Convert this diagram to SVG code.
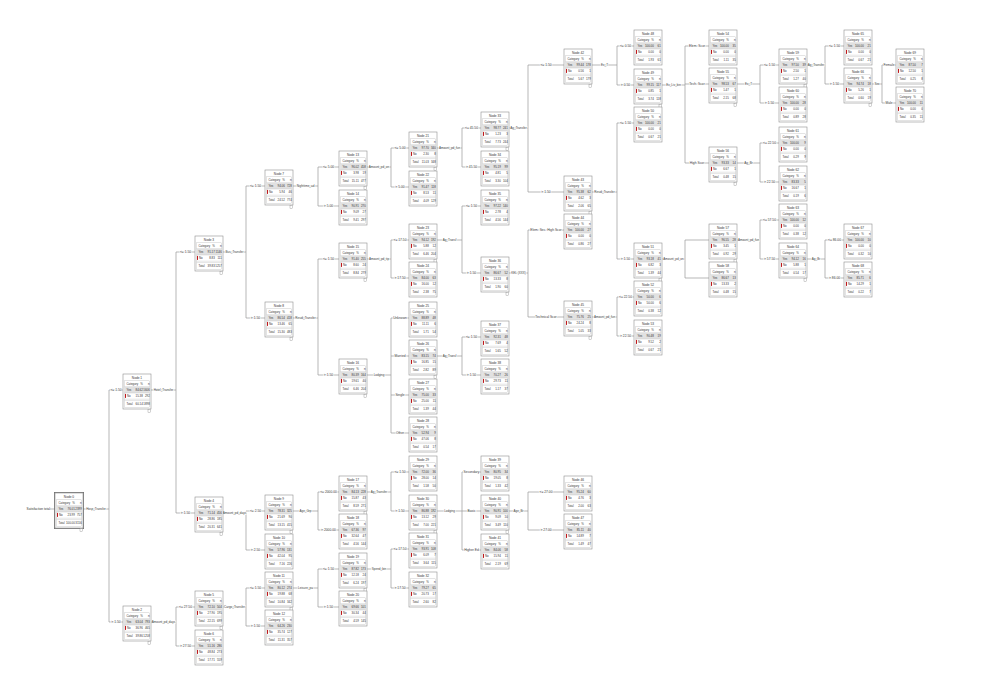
<svg xmlns="http://www.w3.org/2000/svg" xmlns:xlink="http://www.w3.org/1999/xlink" width="1004" height="685" viewBox="0 0 1004 685">
<style>
text{font-family:'Liberation Sans',Arial,sans-serif;fill:#333}
.ln{fill:none;stroke:#9a9a9a;stroke-width:.7}
.ti{font-size:3.2px;text-anchor:middle}
.h{font-size:2.9px}
.v{font-size:2.9px;text-anchor:end}
.bl,.sl{text-anchor:middle;fill:#3a3a3a;stroke:#fff;stroke-width:1.4px;paint-order:stroke;stroke-linejoin:round}
.bl{font-size:3.3px}
.sl{font-size:3px}
.rl{font-size:3.2px;text-anchor:end}
</style>
<defs>
<g id="box">
<rect width="28" height="35" fill="#fff" stroke="#8f8f8f" stroke-width=".6"/>
<rect x="1.5" y="6.8" width="25" height="26.7" fill="none" stroke="#bdbdbd" stroke-width=".4"/>
<rect x="1.7" y="13" width="24.6" height="6" fill="#e1e1e1"/>
<path d="M1.5 12.6H26.5M1.5 19H26.5M1.5 25.2H26.5M1.5 26.6H26.5" stroke="#bdbdbd" stroke-width=".4" fill="none"/>
<rect x="2" y="19.9" width="1" height="4" fill="#c0171d"/>
<text class="h" x="3.5" y="10.9">Category</text>
<text class="h" x="19.8" y="10.9" text-anchor="end">%</text>
<text class="h" x="26.6" y="10.9" text-anchor="end">n</text>
<text class="h" x="3.5" y="17.1">Yes</text>
<text class="h" x="4" y="23.2">No</text>
<text class="h" x="3.5" y="31.1">Total</text>
</g>
<rect id="tick" x="25" y="35.6" width="2.6" height="2.6" fill="#fff" stroke="#8c8c8c" stroke-width=".4"/>
</defs>
<rect width="1004" height="685" fill="#fff"/>

<g id="connectors">
<path class="ln" d="M50 509H55"/>
<path class="ln" d="M83 509H109M109 390V622M109 390H123M109 622H123"/>
<path class="ln" d="M151 390H176M176 252V513M176 252H195M176 513H195"/>
<path class="ln" d="M151 622H176M176 607V646M176 607H195M176 646H195"/>
<path class="ln" d="M223 252H246M246 186V318M246 186H265M246 318H265"/>
<path class="ln" d="M223 513H246M246 511V550M246 511H265M246 550H265"/>
<path class="ln" d="M223 607H246M246 588V626M246 588H265M246 626H265"/>
<path class="ln" d="M293 186H318M318 167V206M318 167H339M318 206H339"/>
<path class="ln" d="M293 318H318M318 259V375M318 259H339M318 375H339"/>
<path class="ln" d="M293 511H318M318 492V530M318 492H339M318 530H339"/>
<path class="ln" d="M293 588H318M318 569V607M318 569H339M318 607H339"/>
<path class="ln" d="M367 167H391M391 148V187M391 148H409M391 187H409"/>
<path class="ln" d="M367 259H391M391 240V278M391 240H409M391 278H409"/>
<path class="ln" d="M367 375H391M391 318V433M391 318H409M391 356H409M391 395H409M391 433H409"/>
<path class="ln" d="M367 492H391M391 472V511M391 472H409M391 511H409"/>
<path class="ln" d="M367 569H391M391 549V588M391 549H409M391 588H409"/>
<path class="ln" d="M437 148H462M462 128V167M462 128H481M462 167H481"/>
<path class="ln" d="M437 240H462M462 206V273M462 206H481M462 273H481"/>
<path class="ln" d="M437 356H462M462 337V375M462 337H481M462 375H481"/>
<path class="ln" d="M437 511H462M462 472V550M462 472H481M462 511H481M462 550H481"/>
<path class="ln" d="M509 128H528M528 65V192M528 65H564M528 192H564"/>
<path class="ln" d="M509 273H528M528 230V317M528 230H564M528 317H564"/>
<path class="ln" d="M509 511H528M528 492V530M528 492H564M528 530H564"/>
<path class="ln" d="M592 65H617M617 46V85M617 46H634M617 85H634"/>
<path class="ln" d="M592 192H617M617 123V259M617 123H634M617 259H634"/>
<path class="ln" d="M592 317H617M617 297V336M617 297H634M617 336H634"/>
<path class="ln" d="M662 85H685M685 46V163M685 46H709M685 84H709M685 163H709"/>
<path class="ln" d="M662 259H685M685 240V278M685 240H709M685 278H709"/>
<path class="ln" d="M737 84H760M760 65V103M760 65H779M760 103H779"/>
<path class="ln" d="M737 163H760M760 143V182M760 143H779M760 182H779"/>
<path class="ln" d="M737 240H760M760 220V259M760 220H779M760 259H779"/>
<path class="ln" d="M807 65H825M825 46V84M825 46H844M825 84H844"/>
<path class="ln" d="M807 259H825M825 240V278M825 240H844M825 278H844"/>
<path class="ln" d="M872 84H882M882 65V103M882 65H896M882 103H896"/>

<text class="rl" x="50" y="510.2">Satisfaction total</text>
<text class="sl" x="96" y="510.2">Hosp_Transfer</text>
<text class="sl" x="163.5" y="391.2">Hotel_Transfer</text>
<text class="sl" x="163.5" y="623.2">Amount_pd_days</text>
<text class="sl" x="234.5" y="253.2">Bus_Transfer</text>
<text class="sl" x="234.5" y="514.2">Amount_pd_days</text>
<text class="sl" x="234.5" y="608.2">Cargo_Transfer</text>
<text class="sl" x="305.5" y="187.2">Nighttime_ad</text>
<text class="sl" x="305.5" y="319.2">Resid_Transfer</text>
<text class="sl" x="305.5" y="512.2">Age_Grp</text>
<text class="sl" x="305.5" y="589.2">Leisure_pa</text>
<text class="sl" x="379" y="168.2">Amount_pd_on</text>
<text class="sl" x="379" y="260.2">Amount_pd_tip</text>
<text class="sl" x="379" y="376.2">Lodging</text>
<text class="sl" x="379" y="493.2">Ag_Transfer</text>
<text class="sl" x="379" y="570.2">Spend_bin</text>
<text class="sl" x="449.5" y="149.2">Amount_pd_fun</text>
<text class="sl" x="449.5" y="241.2">Ag_Transf</text>
<text class="sl" x="449.5" y="357.2">Ag_Transf</text>
<text class="sl" x="449.5" y="512.2">Lodging</text>
<text class="sl" x="518.5" y="129.2">Ag_Transfer</text>
<text class="sl" x="518.5" y="274.2">KEL (XXX)</text>
<text class="sl" x="518.5" y="512.2">Age_Br</text>
<text class="sl" x="604.5" y="66.2">Ex_T</text>
<text class="sl" x="604.5" y="193.2">Resid_Transfer</text>
<text class="sl" x="604.5" y="318.2">Amount_pd_fun</text>
<text class="sl" x="673.5" y="86.2">Ex_Liv_bin</text>
<text class="sl" x="673.5" y="260.2">Amount_pd_on</text>
<text class="sl" x="748.5" y="85.2">Ex_T</text>
<text class="sl" x="748.5" y="164.2">Ag_Br</text>
<text class="sl" x="748.5" y="241.2">Amount_pd_fun</text>
<text class="sl" x="816" y="66.2">Ag_Transfer</text>
<text class="sl" x="816" y="260.2">Ag_Br</text>
<text class="sl" x="877" y="85.2">Sex</text>

<text class="bl" x="116" y="391.2">&lt;= 1.50</text>
<text class="bl" x="116" y="623.2">&gt; 1.50</text>
<text class="bl" x="185.5" y="253.2">&lt;= 1.50</text>
<text class="bl" x="185.5" y="514.2">&gt; 1.50</text>
<text class="bl" x="185.5" y="608.2">&lt;= 27.50</text>
<text class="bl" x="185.5" y="647.2">&gt; 27.50</text>
<text class="bl" x="255.5" y="187.2">&lt;= 1.50</text>
<text class="bl" x="255.5" y="319.2">&gt; 1.50</text>
<text class="bl" x="255.5" y="512.2">&lt;= 2.50</text>
<text class="bl" x="255.5" y="551.2">&gt; 2.50</text>
<text class="bl" x="255.5" y="589.2">&lt;= 1.50</text>
<text class="bl" x="255.5" y="627.2">&gt; 1.50</text>
<text class="bl" x="328.5" y="168.2">&lt;= 5.00</text>
<text class="bl" x="328.5" y="207.2">&gt; 5.00</text>
<text class="bl" x="328.5" y="260.2">&lt;= 1.50</text>
<text class="bl" x="328.5" y="376.2">&gt; 1.50</text>
<text class="bl" x="328.5" y="493.2">&lt;= 2000.00</text>
<text class="bl" x="328.5" y="531.2">&gt; 2000.00</text>
<text class="bl" x="328.5" y="570.2">&lt;= 1.50</text>
<text class="bl" x="328.5" y="608.2">&gt; 1.50</text>
<text class="bl" x="400" y="149.2">&lt;= 5.00</text>
<text class="bl" x="400" y="188.2">&gt; 5.00</text>
<text class="bl" x="400" y="241.2">&lt;= 17.50</text>
<text class="bl" x="400" y="279.2">&gt; 17.50</text>
<text class="bl" x="400" y="319.2">Unknown</text>
<text class="bl" x="400" y="357.2">Married</text>
<text class="bl" x="400" y="396.2">Single</text>
<text class="bl" x="400" y="434.2">Other</text>
<text class="bl" x="400" y="473.2">&lt;= 1.50</text>
<text class="bl" x="400" y="512.2">&gt; 1.50</text>
<text class="bl" x="400" y="550.2">&lt;= 17.50</text>
<text class="bl" x="400" y="589.2">&gt; 17.50</text>
<text class="bl" x="471.5" y="129.2">&lt;= 45.50</text>
<text class="bl" x="471.5" y="168.2">&gt; 45.50</text>
<text class="bl" x="471.5" y="207.2">&lt;= 1.50</text>
<text class="bl" x="471.5" y="274.2">&gt; 1.50</text>
<text class="bl" x="471.5" y="338.2">&lt;= 1.50</text>
<text class="bl" x="471.5" y="376.2">&gt; 1.50</text>
<text class="bl" x="471.5" y="473.2">Secondary</text>
<text class="bl" x="471.5" y="512.2">Basic</text>
<text class="bl" x="471.5" y="551.2">Higher Ed</text>
<text class="bl" x="546" y="66.2">&lt;= 1.50</text>
<text class="bl" x="546" y="193.2">&gt; 1.50</text>
<text class="bl" x="546" y="231.2">Elem. Sec. High Scor</text>
<text class="bl" x="546" y="318.2">Technical Scor</text>
<text class="bl" x="546" y="493.2">&lt;= 27.00</text>
<text class="bl" x="546" y="531.2">&gt; 27.00</text>
<text class="bl" x="625.5" y="47.2">&lt;= 0.50</text>
<text class="bl" x="625.5" y="86.2">&gt; 0.50</text>
<text class="bl" x="625.5" y="124.2">&lt;= 1.50</text>
<text class="bl" x="625.5" y="260.2">&gt; 1.50</text>
<text class="bl" x="625.5" y="298.2">&lt;= 22.50</text>
<text class="bl" x="625.5" y="337.2">&gt; 22.50</text>
<text class="bl" x="697" y="47.2">Elem. Scor</text>
<text class="bl" x="697" y="85.2">Tech. Scor</text>
<text class="bl" x="697" y="164.2">High Scor</text>
<text class="bl" x="769.5" y="66.2">&lt;= 1.50</text>
<text class="bl" x="769.5" y="104.2">&gt; 1.50</text>
<text class="bl" x="769.5" y="144.2">&lt;= 22.50</text>
<text class="bl" x="769.5" y="183.2">&gt; 22.50</text>
<text class="bl" x="769.5" y="221.2">&lt;= 57.50</text>
<text class="bl" x="769.5" y="260.2">&gt; 57.50</text>
<text class="bl" x="834.5" y="47.2">&lt;= 1.50</text>
<text class="bl" x="834.5" y="85.2">&gt; 1.50</text>
<text class="bl" x="834.5" y="241.2">&lt;= 86.00</text>
<text class="bl" x="834.5" y="279.2">&gt; 86.00</text>
<text class="bl" x="889" y="66.2">Female</text>
<text class="bl" x="889" y="104.2">Male</text>
</g>

<g id="node-0" transform="translate(55,493)"><use href="#box"/><rect x="-0.6" y="-0.6" width="29.2" height="36.2" fill="none" stroke="#6f6f6f" stroke-width=".8"/><text class="ti" x="14" y="4.8">Node 0</text><text class="v" y="17.1"><tspan x="19.8">76.01</tspan><tspan x="26.8">2399</tspan></text><text class="v" y="23.2"><tspan x="19.8">23.99</tspan><tspan x="26.8">757</tspan></text><text class="v" y="31.1"><tspan x="19.8">100.00</tspan><tspan x="26.8">3156</tspan></text><use href="#tick"/></g>
<g id="node-1" transform="translate(123,374)"><use href="#box"/><text class="ti" x="14" y="4.8">Node 1</text><text class="v" y="17.1"><tspan x="19.8">84.62</tspan><tspan x="26.8">1606</tspan></text><text class="v" y="23.2"><tspan x="19.8">15.38</tspan><tspan x="26.8">292</tspan></text><text class="v" y="31.1"><tspan x="19.8">60.14</tspan><tspan x="26.8">1898</tspan></text><use href="#tick"/></g>
<g id="node-2" transform="translate(123,606)"><use href="#box"/><text class="ti" x="14" y="4.8">Node 2</text><text class="v" y="17.1"><tspan x="19.8">63.04</tspan><tspan x="26.8">793</tspan></text><text class="v" y="23.2"><tspan x="19.8">36.96</tspan><tspan x="26.8">465</tspan></text><text class="v" y="31.1"><tspan x="19.8">39.86</tspan><tspan x="26.8">1258</tspan></text><use href="#tick"/></g>
<g id="node-3" transform="translate(195,236)"><use href="#box"/><text class="ti" x="14" y="4.8">Node 3</text><text class="v" y="17.1"><tspan x="19.8">91.17</tspan><tspan x="26.8">1146</tspan></text><text class="v" y="23.2"><tspan x="19.8">8.83</tspan><tspan x="26.8">111</tspan></text><text class="v" y="31.1"><tspan x="19.8">39.83</tspan><tspan x="26.8">1257</tspan></text><use href="#tick"/></g>
<g id="node-4" transform="translate(195,497)"><use href="#box"/><text class="ti" x="14" y="4.8">Node 4</text><text class="v" y="17.1"><tspan x="19.8">71.14</tspan><tspan x="26.8">456</tspan></text><text class="v" y="23.2"><tspan x="19.8">28.86</tspan><tspan x="26.8">185</tspan></text><text class="v" y="31.1"><tspan x="19.8">20.31</tspan><tspan x="26.8">641</tspan></text><use href="#tick"/></g>
<g id="node-5" transform="translate(195,591)"><use href="#box"/><text class="ti" x="14" y="4.8">Node 5</text><text class="v" y="17.1"><tspan x="19.8">72.10</tspan><tspan x="26.8">504</tspan></text><text class="v" y="23.2"><tspan x="19.8">27.90</tspan><tspan x="26.8">195</tspan></text><text class="v" y="31.1"><tspan x="19.8">22.15</tspan><tspan x="26.8">699</tspan></text><use href="#tick"/></g>
<g id="node-6" transform="translate(195,630)"><use href="#box"/><text class="ti" x="14" y="4.8">Node 6</text><text class="v" y="17.1"><tspan x="19.8">51.16</tspan><tspan x="26.8">286</tspan></text><text class="v" y="23.2"><tspan x="19.8">48.84</tspan><tspan x="26.8">273</tspan></text><text class="v" y="31.1"><tspan x="19.8">17.71</tspan><tspan x="26.8">559</tspan></text></g>
<g id="node-7" transform="translate(265,170)"><use href="#box"/><text class="ti" x="14" y="4.8">Node 7</text><text class="v" y="17.1"><tspan x="19.8">94.06</tspan><tspan x="26.8">728</tspan></text><text class="v" y="23.2"><tspan x="19.8">5.94</tspan><tspan x="26.8">46</tspan></text><text class="v" y="31.1"><tspan x="19.8">24.52</tspan><tspan x="26.8">774</tspan></text><use href="#tick"/></g>
<g id="node-8" transform="translate(265,302)"><use href="#box"/><text class="ti" x="14" y="4.8">Node 8</text><text class="v" y="17.1"><tspan x="19.8">86.54</tspan><tspan x="26.8">418</tspan></text><text class="v" y="23.2"><tspan x="19.8">13.46</tspan><tspan x="26.8">65</tspan></text><text class="v" y="31.1"><tspan x="19.8">15.30</tspan><tspan x="26.8">483</tspan></text><use href="#tick"/></g>
<g id="node-9" transform="translate(265,495)"><use href="#box"/><text class="ti" x="14" y="4.8">Node 9</text><text class="v" y="17.1"><tspan x="19.8">78.31</tspan><tspan x="26.8">325</tspan></text><text class="v" y="23.2"><tspan x="19.8">21.69</tspan><tspan x="26.8">90</tspan></text><text class="v" y="31.1"><tspan x="19.8">13.15</tspan><tspan x="26.8">415</tspan></text><use href="#tick"/></g>
<g id="node-10" transform="translate(265,534)"><use href="#box"/><text class="ti" x="14" y="4.8">Node 10</text><text class="v" y="17.1"><tspan x="19.8">57.96</tspan><tspan x="26.8">131</tspan></text><text class="v" y="23.2"><tspan x="19.8">42.04</tspan><tspan x="26.8">95</tspan></text><text class="v" y="31.1"><tspan x="19.8">7.16</tspan><tspan x="26.8">226</tspan></text></g>
<g id="node-11" transform="translate(265,572)"><use href="#box"/><text class="ti" x="14" y="4.8">Node 11</text><text class="v" y="17.1"><tspan x="19.8">80.12</tspan><tspan x="26.8">274</tspan></text><text class="v" y="23.2"><tspan x="19.8">19.88</tspan><tspan x="26.8">68</tspan></text><text class="v" y="31.1"><tspan x="19.8">10.84</tspan><tspan x="26.8">342</tspan></text><use href="#tick"/></g>
<g id="node-12" transform="translate(265,610)"><use href="#box"/><text class="ti" x="14" y="4.8">Node 12</text><text class="v" y="17.1"><tspan x="19.8">64.26</tspan><tspan x="26.8">230</tspan></text><text class="v" y="23.2"><tspan x="19.8">35.74</tspan><tspan x="26.8">127</tspan></text><text class="v" y="31.1"><tspan x="19.8">11.31</tspan><tspan x="26.8">357</tspan></text></g>
<g id="node-13" transform="translate(339,151)"><use href="#box"/><text class="ti" x="14" y="4.8">Node 13</text><text class="v" y="17.1"><tspan x="19.8">96.02</tspan><tspan x="26.8">458</tspan></text><text class="v" y="23.2"><tspan x="19.8">3.98</tspan><tspan x="26.8">19</tspan></text><text class="v" y="31.1"><tspan x="19.8">15.11</tspan><tspan x="26.8">477</tspan></text><use href="#tick"/></g>
<g id="node-14" transform="translate(339,190)"><use href="#box"/><text class="ti" x="14" y="4.8">Node 14</text><text class="v" y="17.1"><tspan x="19.8">90.91</tspan><tspan x="26.8">270</tspan></text><text class="v" y="23.2"><tspan x="19.8">9.09</tspan><tspan x="26.8">27</tspan></text><text class="v" y="31.1"><tspan x="19.8">9.41</tspan><tspan x="26.8">297</tspan></text></g>
<g id="node-15" transform="translate(339,243)"><use href="#box"/><text class="ti" x="14" y="4.8">Node 15</text><text class="v" y="17.1"><tspan x="19.8">91.40</tspan><tspan x="26.8">255</tspan></text><text class="v" y="23.2"><tspan x="19.8">8.60</tspan><tspan x="26.8">24</tspan></text><text class="v" y="31.1"><tspan x="19.8">8.84</tspan><tspan x="26.8">279</tspan></text><use href="#tick"/></g>
<g id="node-16" transform="translate(339,359)"><use href="#box"/><text class="ti" x="14" y="4.8">Node 16</text><text class="v" y="17.1"><tspan x="19.8">80.39</tspan><tspan x="26.8">164</tspan></text><text class="v" y="23.2"><tspan x="19.8">19.61</tspan><tspan x="26.8">40</tspan></text><text class="v" y="31.1"><tspan x="19.8">6.46</tspan><tspan x="26.8">204</tspan></text><use href="#tick"/></g>
<g id="node-17" transform="translate(339,476)"><use href="#box"/><text class="ti" x="14" y="4.8">Node 17</text><text class="v" y="17.1"><tspan x="19.8">84.13</tspan><tspan x="26.8">228</tspan></text><text class="v" y="23.2"><tspan x="19.8">15.87</tspan><tspan x="26.8">43</tspan></text><text class="v" y="31.1"><tspan x="19.8">8.59</tspan><tspan x="26.8">271</tspan></text><use href="#tick"/></g>
<g id="node-18" transform="translate(339,514)"><use href="#box"/><text class="ti" x="14" y="4.8">Node 18</text><text class="v" y="17.1"><tspan x="19.8">67.36</tspan><tspan x="26.8">97</tspan></text><text class="v" y="23.2"><tspan x="19.8">32.64</tspan><tspan x="26.8">47</tspan></text><text class="v" y="31.1"><tspan x="19.8">4.56</tspan><tspan x="26.8">144</tspan></text></g>
<g id="node-19" transform="translate(339,553)"><use href="#box"/><text class="ti" x="14" y="4.8">Node 19</text><text class="v" y="17.1"><tspan x="19.8">87.82</tspan><tspan x="26.8">173</tspan></text><text class="v" y="23.2"><tspan x="19.8">12.18</tspan><tspan x="26.8">24</tspan></text><text class="v" y="31.1"><tspan x="19.8">6.24</tspan><tspan x="26.8">197</tspan></text><use href="#tick"/></g>
<g id="node-20" transform="translate(339,591)"><use href="#box"/><text class="ti" x="14" y="4.8">Node 20</text><text class="v" y="17.1"><tspan x="19.8">69.66</tspan><tspan x="26.8">101</tspan></text><text class="v" y="23.2"><tspan x="19.8">30.34</tspan><tspan x="26.8">44</tspan></text><text class="v" y="31.1"><tspan x="19.8">4.59</tspan><tspan x="26.8">145</tspan></text></g>
<g id="node-21" transform="translate(409,132)"><use href="#box"/><text class="ti" x="14" y="4.8">Node 21</text><text class="v" y="17.1"><tspan x="19.8">97.70</tspan><tspan x="26.8">340</tspan></text><text class="v" y="23.2"><tspan x="19.8">2.30</tspan><tspan x="26.8">8</tspan></text><text class="v" y="31.1"><tspan x="19.8">11.03</tspan><tspan x="26.8">348</tspan></text><use href="#tick"/></g>
<g id="node-22" transform="translate(409,171)"><use href="#box"/><text class="ti" x="14" y="4.8">Node 22</text><text class="v" y="17.1"><tspan x="19.8">91.47</tspan><tspan x="26.8">118</tspan></text><text class="v" y="23.2"><tspan x="19.8">8.53</tspan><tspan x="26.8">11</tspan></text><text class="v" y="31.1"><tspan x="19.8">4.09</tspan><tspan x="26.8">129</tspan></text></g>
<g id="node-23" transform="translate(409,224)"><use href="#box"/><text class="ti" x="14" y="4.8">Node 23</text><text class="v" y="17.1"><tspan x="19.8">94.12</tspan><tspan x="26.8">192</tspan></text><text class="v" y="23.2"><tspan x="19.8">5.88</tspan><tspan x="26.8">12</tspan></text><text class="v" y="31.1"><tspan x="19.8">6.46</tspan><tspan x="26.8">204</tspan></text><use href="#tick"/></g>
<g id="node-24" transform="translate(409,262)"><use href="#box"/><text class="ti" x="14" y="4.8">Node 24</text><text class="v" y="17.1"><tspan x="19.8">84.00</tspan><tspan x="26.8">63</tspan></text><text class="v" y="23.2"><tspan x="19.8">16.00</tspan><tspan x="26.8">12</tspan></text><text class="v" y="31.1"><tspan x="19.8">2.38</tspan><tspan x="26.8">75</tspan></text></g>
<g id="node-25" transform="translate(409,302)"><use href="#box"/><text class="ti" x="14" y="4.8">Node 25</text><text class="v" y="17.1"><tspan x="19.8">88.89</tspan><tspan x="26.8">48</tspan></text><text class="v" y="23.2"><tspan x="19.8">11.11</tspan><tspan x="26.8">6</tspan></text><text class="v" y="31.1"><tspan x="19.8">1.71</tspan><tspan x="26.8">54</tspan></text></g>
<g id="node-26" transform="translate(409,340)"><use href="#box"/><text class="ti" x="14" y="4.8">Node 26</text><text class="v" y="17.1"><tspan x="19.8">83.15</tspan><tspan x="26.8">74</tspan></text><text class="v" y="23.2"><tspan x="19.8">16.85</tspan><tspan x="26.8">15</tspan></text><text class="v" y="31.1"><tspan x="19.8">2.82</tspan><tspan x="26.8">89</tspan></text><use href="#tick"/></g>
<g id="node-27" transform="translate(409,379)"><use href="#box"/><text class="ti" x="14" y="4.8">Node 27</text><text class="v" y="17.1"><tspan x="19.8">75.00</tspan><tspan x="26.8">33</tspan></text><text class="v" y="23.2"><tspan x="19.8">25.00</tspan><tspan x="26.8">11</tspan></text><text class="v" y="31.1"><tspan x="19.8">1.39</tspan><tspan x="26.8">44</tspan></text></g>
<g id="node-28" transform="translate(409,417)"><use href="#box"/><text class="ti" x="14" y="4.8">Node 28</text><text class="v" y="17.1"><tspan x="19.8">52.94</tspan><tspan x="26.8">9</tspan></text><text class="v" y="23.2"><tspan x="19.8">47.06</tspan><tspan x="26.8">8</tspan></text><text class="v" y="31.1"><tspan x="19.8">0.54</tspan><tspan x="26.8">17</tspan></text></g>
<g id="node-29" transform="translate(409,456)"><use href="#box"/><text class="ti" x="14" y="4.8">Node 29</text><text class="v" y="17.1"><tspan x="19.8">72.00</tspan><tspan x="26.8">36</tspan></text><text class="v" y="23.2"><tspan x="19.8">28.00</tspan><tspan x="26.8">14</tspan></text><text class="v" y="31.1"><tspan x="19.8">1.58</tspan><tspan x="26.8">50</tspan></text></g>
<g id="node-30" transform="translate(409,495)"><use href="#box"/><text class="ti" x="14" y="4.8">Node 30</text><text class="v" y="17.1"><tspan x="19.8">86.88</tspan><tspan x="26.8">192</tspan></text><text class="v" y="23.2"><tspan x="19.8">13.12</tspan><tspan x="26.8">29</tspan></text><text class="v" y="31.1"><tspan x="19.8">7.00</tspan><tspan x="26.8">221</tspan></text><use href="#tick"/></g>
<g id="node-31" transform="translate(409,533)"><use href="#box"/><text class="ti" x="14" y="4.8">Node 31</text><text class="v" y="17.1"><tspan x="19.8">93.91</tspan><tspan x="26.8">108</tspan></text><text class="v" y="23.2"><tspan x="19.8">6.09</tspan><tspan x="26.8">7</tspan></text><text class="v" y="31.1"><tspan x="19.8">3.64</tspan><tspan x="26.8">115</tspan></text></g>
<g id="node-32" transform="translate(409,572)"><use href="#box"/><text class="ti" x="14" y="4.8">Node 32</text><text class="v" y="17.1"><tspan x="19.8">79.27</tspan><tspan x="26.8">65</tspan></text><text class="v" y="23.2"><tspan x="19.8">20.73</tspan><tspan x="26.8">17</tspan></text><text class="v" y="31.1"><tspan x="19.8">2.60</tspan><tspan x="26.8">82</tspan></text></g>
<g id="node-33" transform="translate(481,112)"><use href="#box"/><text class="ti" x="14" y="4.8">Node 33</text><text class="v" y="17.1"><tspan x="19.8">98.77</tspan><tspan x="26.8">241</tspan></text><text class="v" y="23.2"><tspan x="19.8">1.23</tspan><tspan x="26.8">3</tspan></text><text class="v" y="31.1"><tspan x="19.8">7.73</tspan><tspan x="26.8">244</tspan></text><use href="#tick"/></g>
<g id="node-34" transform="translate(481,151)"><use href="#box"/><text class="ti" x="14" y="4.8">Node 34</text><text class="v" y="17.1"><tspan x="19.8">95.19</tspan><tspan x="26.8">99</tspan></text><text class="v" y="23.2"><tspan x="19.8">4.81</tspan><tspan x="26.8">5</tspan></text><text class="v" y="31.1"><tspan x="19.8">3.30</tspan><tspan x="26.8">104</tspan></text></g>
<g id="node-35" transform="translate(481,190)"><use href="#box"/><text class="ti" x="14" y="4.8">Node 35</text><text class="v" y="17.1"><tspan x="19.8">97.22</tspan><tspan x="26.8">140</tspan></text><text class="v" y="23.2"><tspan x="19.8">2.78</tspan><tspan x="26.8">4</tspan></text><text class="v" y="31.1"><tspan x="19.8">4.56</tspan><tspan x="26.8">144</tspan></text></g>
<g id="node-36" transform="translate(481,257)"><use href="#box"/><text class="ti" x="14" y="4.8">Node 36</text><text class="v" y="17.1"><tspan x="19.8">86.67</tspan><tspan x="26.8">52</tspan></text><text class="v" y="23.2"><tspan x="19.8">13.33</tspan><tspan x="26.8">8</tspan></text><text class="v" y="31.1"><tspan x="19.8">1.90</tspan><tspan x="26.8">60</tspan></text><use href="#tick"/></g>
<g id="node-37" transform="translate(481,321)"><use href="#box"/><text class="ti" x="14" y="4.8">Node 37</text><text class="v" y="17.1"><tspan x="19.8">92.31</tspan><tspan x="26.8">48</tspan></text><text class="v" y="23.2"><tspan x="19.8">7.69</tspan><tspan x="26.8">4</tspan></text><text class="v" y="31.1"><tspan x="19.8">1.65</tspan><tspan x="26.8">52</tspan></text></g>
<g id="node-38" transform="translate(481,359)"><use href="#box"/><text class="ti" x="14" y="4.8">Node 38</text><text class="v" y="17.1"><tspan x="19.8">70.27</tspan><tspan x="26.8">26</tspan></text><text class="v" y="23.2"><tspan x="19.8">29.73</tspan><tspan x="26.8">11</tspan></text><text class="v" y="31.1"><tspan x="19.8">1.17</tspan><tspan x="26.8">37</tspan></text></g>
<g id="node-39" transform="translate(481,456)"><use href="#box"/><text class="ti" x="14" y="4.8">Node 39</text><text class="v" y="17.1"><tspan x="19.8">80.95</tspan><tspan x="26.8">34</tspan></text><text class="v" y="23.2"><tspan x="19.8">19.05</tspan><tspan x="26.8">8</tspan></text><text class="v" y="31.1"><tspan x="19.8">1.33</tspan><tspan x="26.8">42</tspan></text></g>
<g id="node-40" transform="translate(481,495)"><use href="#box"/><text class="ti" x="14" y="4.8">Node 40</text><text class="v" y="17.1"><tspan x="19.8">90.91</tspan><tspan x="26.8">100</tspan></text><text class="v" y="23.2"><tspan x="19.8">9.09</tspan><tspan x="26.8">10</tspan></text><text class="v" y="31.1"><tspan x="19.8">3.49</tspan><tspan x="26.8">110</tspan></text><use href="#tick"/></g>
<g id="node-41" transform="translate(481,534)"><use href="#box"/><text class="ti" x="14" y="4.8">Node 41</text><text class="v" y="17.1"><tspan x="19.8">84.06</tspan><tspan x="26.8">58</tspan></text><text class="v" y="23.2"><tspan x="19.8">15.94</tspan><tspan x="26.8">11</tspan></text><text class="v" y="31.1"><tspan x="19.8">2.19</tspan><tspan x="26.8">69</tspan></text></g>
<g id="node-42" transform="translate(564,49)"><use href="#box"/><text class="ti" x="14" y="4.8">Node 42</text><text class="v" y="17.1"><tspan x="19.8">99.44</tspan><tspan x="26.8">178</tspan></text><text class="v" y="23.2"><tspan x="19.8">0.56</tspan><tspan x="26.8">1</tspan></text><text class="v" y="31.1"><tspan x="19.8">5.67</tspan><tspan x="26.8">179</tspan></text><use href="#tick"/></g>
<g id="node-43" transform="translate(564,176)"><use href="#box"/><text class="ti" x="14" y="4.8">Node 43</text><text class="v" y="17.1"><tspan x="19.8">95.38</tspan><tspan x="26.8">62</tspan></text><text class="v" y="23.2"><tspan x="19.8">4.62</tspan><tspan x="26.8">3</tspan></text><text class="v" y="31.1"><tspan x="19.8">2.06</tspan><tspan x="26.8">65</tspan></text><use href="#tick"/></g>
<g id="node-44" transform="translate(564,214)"><use href="#box"/><text class="ti" x="14" y="4.8">Node 44</text><text class="v" y="17.1"><tspan x="19.8">100.00</tspan><tspan x="26.8">27</tspan></text><text class="v" y="23.2"><tspan x="19.8">0.00</tspan><tspan x="26.8">0</tspan></text><text class="v" y="31.1"><tspan x="19.8">0.86</tspan><tspan x="26.8">27</tspan></text></g>
<g id="node-45" transform="translate(564,301)"><use href="#box"/><text class="ti" x="14" y="4.8">Node 45</text><text class="v" y="17.1"><tspan x="19.8">75.76</tspan><tspan x="26.8">25</tspan></text><text class="v" y="23.2"><tspan x="19.8">24.24</tspan><tspan x="26.8">8</tspan></text><text class="v" y="31.1"><tspan x="19.8">1.05</tspan><tspan x="26.8">33</tspan></text><use href="#tick"/></g>
<g id="node-46" transform="translate(564,476)"><use href="#box"/><text class="ti" x="14" y="4.8">Node 46</text><text class="v" y="17.1"><tspan x="19.8">95.24</tspan><tspan x="26.8">60</tspan></text><text class="v" y="23.2"><tspan x="19.8">4.76</tspan><tspan x="26.8">3</tspan></text><text class="v" y="31.1"><tspan x="19.8">2.00</tspan><tspan x="26.8">63</tspan></text></g>
<g id="node-47" transform="translate(564,514)"><use href="#box"/><text class="ti" x="14" y="4.8">Node 47</text><text class="v" y="17.1"><tspan x="19.8">85.11</tspan><tspan x="26.8">40</tspan></text><text class="v" y="23.2"><tspan x="19.8">14.89</tspan><tspan x="26.8">7</tspan></text><text class="v" y="31.1"><tspan x="19.8">1.49</tspan><tspan x="26.8">47</tspan></text></g>
<g id="node-48" transform="translate(634,30)"><use href="#box"/><text class="ti" x="14" y="4.8">Node 48</text><text class="v" y="17.1"><tspan x="19.8">100.00</tspan><tspan x="26.8">61</tspan></text><text class="v" y="23.2"><tspan x="19.8">0.00</tspan><tspan x="26.8">0</tspan></text><text class="v" y="31.1"><tspan x="19.8">1.93</tspan><tspan x="26.8">61</tspan></text></g>
<g id="node-49" transform="translate(634,69)"><use href="#box"/><text class="ti" x="14" y="4.8">Node 49</text><text class="v" y="17.1"><tspan x="19.8">99.15</tspan><tspan x="26.8">117</tspan></text><text class="v" y="23.2"><tspan x="19.8">0.85</tspan><tspan x="26.8">1</tspan></text><text class="v" y="31.1"><tspan x="19.8">3.74</tspan><tspan x="26.8">118</tspan></text><use href="#tick"/></g>
<g id="node-50" transform="translate(634,107)"><use href="#box"/><text class="ti" x="14" y="4.8">Node 50</text><text class="v" y="17.1"><tspan x="19.8">100.00</tspan><tspan x="26.8">21</tspan></text><text class="v" y="23.2"><tspan x="19.8">0.00</tspan><tspan x="26.8">0</tspan></text><text class="v" y="31.1"><tspan x="19.8">0.67</tspan><tspan x="26.8">21</tspan></text></g>
<g id="node-51" transform="translate(634,243)"><use href="#box"/><text class="ti" x="14" y="4.8">Node 51</text><text class="v" y="17.1"><tspan x="19.8">93.18</tspan><tspan x="26.8">41</tspan></text><text class="v" y="23.2"><tspan x="19.8">6.82</tspan><tspan x="26.8">3</tspan></text><text class="v" y="31.1"><tspan x="19.8">1.39</tspan><tspan x="26.8">44</tspan></text><use href="#tick"/></g>
<g id="node-52" transform="translate(634,281)"><use href="#box"/><text class="ti" x="14" y="4.8">Node 52</text><text class="v" y="17.1"><tspan x="19.8">50.00</tspan><tspan x="26.8">6</tspan></text><text class="v" y="23.2"><tspan x="19.8">50.00</tspan><tspan x="26.8">6</tspan></text><text class="v" y="31.1"><tspan x="19.8">0.38</tspan><tspan x="26.8">12</tspan></text></g>
<g id="node-53" transform="translate(634,320)"><use href="#box"/><text class="ti" x="14" y="4.8">Node 53</text><text class="v" y="17.1"><tspan x="19.8">90.48</tspan><tspan x="26.8">19</tspan></text><text class="v" y="23.2"><tspan x="19.8">9.52</tspan><tspan x="26.8">2</tspan></text><text class="v" y="31.1"><tspan x="19.8">0.67</tspan><tspan x="26.8">21</tspan></text></g>
<g id="node-54" transform="translate(709,30)"><use href="#box"/><text class="ti" x="14" y="4.8">Node 54</text><text class="v" y="17.1"><tspan x="19.8">100.00</tspan><tspan x="26.8">35</tspan></text><text class="v" y="23.2"><tspan x="19.8">0.00</tspan><tspan x="26.8">0</tspan></text><text class="v" y="31.1"><tspan x="19.8">1.11</tspan><tspan x="26.8">35</tspan></text></g>
<g id="node-55" transform="translate(709,68)"><use href="#box"/><text class="ti" x="14" y="4.8">Node 55</text><text class="v" y="17.1"><tspan x="19.8">98.53</tspan><tspan x="26.8">67</tspan></text><text class="v" y="23.2"><tspan x="19.8">1.47</tspan><tspan x="26.8">1</tspan></text><text class="v" y="31.1"><tspan x="19.8">2.15</tspan><tspan x="26.8">68</tspan></text><use href="#tick"/></g>
<g id="node-56" transform="translate(709,147)"><use href="#box"/><text class="ti" x="14" y="4.8">Node 56</text><text class="v" y="17.1"><tspan x="19.8">93.33</tspan><tspan x="26.8">14</tspan></text><text class="v" y="23.2"><tspan x="19.8">6.67</tspan><tspan x="26.8">1</tspan></text><text class="v" y="31.1"><tspan x="19.8">0.48</tspan><tspan x="26.8">15</tspan></text><use href="#tick"/></g>
<g id="node-57" transform="translate(709,224)"><use href="#box"/><text class="ti" x="14" y="4.8">Node 57</text><text class="v" y="17.1"><tspan x="19.8">96.55</tspan><tspan x="26.8">28</tspan></text><text class="v" y="23.2"><tspan x="19.8">3.45</tspan><tspan x="26.8">1</tspan></text><text class="v" y="31.1"><tspan x="19.8">0.92</tspan><tspan x="26.8">29</tspan></text><use href="#tick"/></g>
<g id="node-58" transform="translate(709,262)"><use href="#box"/><text class="ti" x="14" y="4.8">Node 58</text><text class="v" y="17.1"><tspan x="19.8">86.67</tspan><tspan x="26.8">13</tspan></text><text class="v" y="23.2"><tspan x="19.8">13.33</tspan><tspan x="26.8">2</tspan></text><text class="v" y="31.1"><tspan x="19.8">0.48</tspan><tspan x="26.8">15</tspan></text></g>
<g id="node-59" transform="translate(779,49)"><use href="#box"/><text class="ti" x="14" y="4.8">Node 59</text><text class="v" y="17.1"><tspan x="19.8">97.50</tspan><tspan x="26.8">39</tspan></text><text class="v" y="23.2"><tspan x="19.8">2.50</tspan><tspan x="26.8">1</tspan></text><text class="v" y="31.1"><tspan x="19.8">1.27</tspan><tspan x="26.8">40</tspan></text><use href="#tick"/></g>
<g id="node-60" transform="translate(779,87)"><use href="#box"/><text class="ti" x="14" y="4.8">Node 60</text><text class="v" y="17.1"><tspan x="19.8">100.00</tspan><tspan x="26.8">28</tspan></text><text class="v" y="23.2"><tspan x="19.8">0.00</tspan><tspan x="26.8">0</tspan></text><text class="v" y="31.1"><tspan x="19.8">0.89</tspan><tspan x="26.8">28</tspan></text></g>
<g id="node-61" transform="translate(779,127)"><use href="#box"/><text class="ti" x="14" y="4.8">Node 61</text><text class="v" y="17.1"><tspan x="19.8">100.00</tspan><tspan x="26.8">9</tspan></text><text class="v" y="23.2"><tspan x="19.8">0.00</tspan><tspan x="26.8">0</tspan></text><text class="v" y="31.1"><tspan x="19.8">0.29</tspan><tspan x="26.8">9</tspan></text></g>
<g id="node-62" transform="translate(779,166)"><use href="#box"/><text class="ti" x="14" y="4.8">Node 62</text><text class="v" y="17.1"><tspan x="19.8">83.33</tspan><tspan x="26.8">5</tspan></text><text class="v" y="23.2"><tspan x="19.8">16.67</tspan><tspan x="26.8">1</tspan></text><text class="v" y="31.1"><tspan x="19.8">0.19</tspan><tspan x="26.8">6</tspan></text></g>
<g id="node-63" transform="translate(779,204)"><use href="#box"/><text class="ti" x="14" y="4.8">Node 63</text><text class="v" y="17.1"><tspan x="19.8">100.00</tspan><tspan x="26.8">12</tspan></text><text class="v" y="23.2"><tspan x="19.8">0.00</tspan><tspan x="26.8">0</tspan></text><text class="v" y="31.1"><tspan x="19.8">0.38</tspan><tspan x="26.8">12</tspan></text></g>
<g id="node-64" transform="translate(779,243)"><use href="#box"/><text class="ti" x="14" y="4.8">Node 64</text><text class="v" y="17.1"><tspan x="19.8">94.12</tspan><tspan x="26.8">16</tspan></text><text class="v" y="23.2"><tspan x="19.8">5.88</tspan><tspan x="26.8">1</tspan></text><text class="v" y="31.1"><tspan x="19.8">0.54</tspan><tspan x="26.8">17</tspan></text><use href="#tick"/></g>
<g id="node-65" transform="translate(844,30)"><use href="#box"/><text class="ti" x="14" y="4.8">Node 65</text><text class="v" y="17.1"><tspan x="19.8">100.00</tspan><tspan x="26.8">21</tspan></text><text class="v" y="23.2"><tspan x="19.8">0.00</tspan><tspan x="26.8">0</tspan></text><text class="v" y="31.1"><tspan x="19.8">0.67</tspan><tspan x="26.8">21</tspan></text></g>
<g id="node-66" transform="translate(844,68)"><use href="#box"/><text class="ti" x="14" y="4.8">Node 66</text><text class="v" y="17.1"><tspan x="19.8">94.74</tspan><tspan x="26.8">18</tspan></text><text class="v" y="23.2"><tspan x="19.8">5.26</tspan><tspan x="26.8">1</tspan></text><text class="v" y="31.1"><tspan x="19.8">0.60</tspan><tspan x="26.8">19</tspan></text><use href="#tick"/></g>
<g id="node-67" transform="translate(844,224)"><use href="#box"/><text class="ti" x="14" y="4.8">Node 67</text><text class="v" y="17.1"><tspan x="19.8">100.00</tspan><tspan x="26.8">10</tspan></text><text class="v" y="23.2"><tspan x="19.8">0.00</tspan><tspan x="26.8">0</tspan></text><text class="v" y="31.1"><tspan x="19.8">0.32</tspan><tspan x="26.8">10</tspan></text></g>
<g id="node-68" transform="translate(844,262)"><use href="#box"/><text class="ti" x="14" y="4.8">Node 68</text><text class="v" y="17.1"><tspan x="19.8">85.71</tspan><tspan x="26.8">6</tspan></text><text class="v" y="23.2"><tspan x="19.8">14.29</tspan><tspan x="26.8">1</tspan></text><text class="v" y="31.1"><tspan x="19.8">0.22</tspan><tspan x="26.8">7</tspan></text></g>
<g id="node-69" transform="translate(896,49)"><use href="#box"/><text class="ti" x="14" y="4.8">Node 69</text><text class="v" y="17.1"><tspan x="19.8">87.50</tspan><tspan x="26.8">7</tspan></text><text class="v" y="23.2"><tspan x="19.8">12.50</tspan><tspan x="26.8">1</tspan></text><text class="v" y="31.1"><tspan x="19.8">0.25</tspan><tspan x="26.8">8</tspan></text></g>
<g id="node-70" transform="translate(896,87)"><use href="#box"/><text class="ti" x="14" y="4.8">Node 70</text><text class="v" y="17.1"><tspan x="19.8">100.00</tspan><tspan x="26.8">11</tspan></text><text class="v" y="23.2"><tspan x="19.8">0.00</tspan><tspan x="26.8">0</tspan></text><text class="v" y="31.1"><tspan x="19.8">0.35</tspan><tspan x="26.8">11</tspan></text></g>
</svg>
